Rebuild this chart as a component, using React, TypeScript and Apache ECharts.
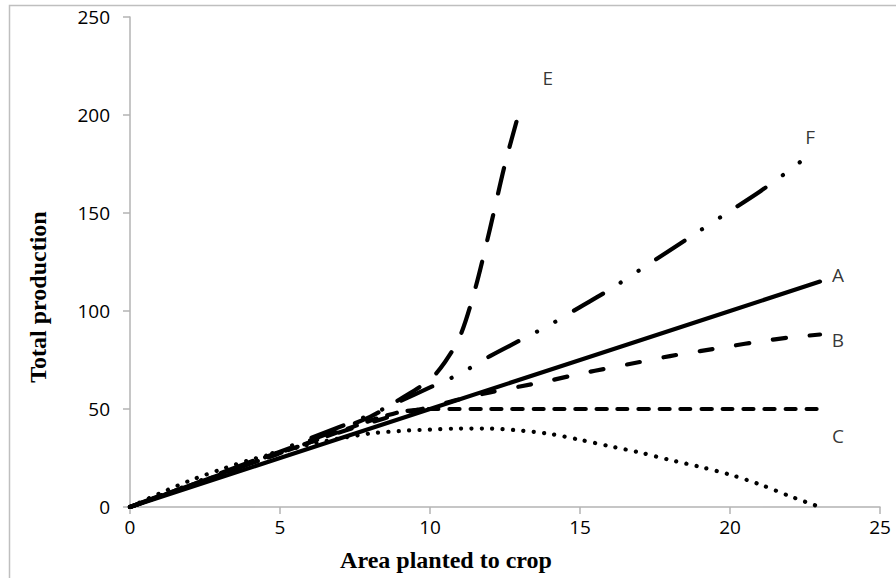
import React, { useEffect, useRef } from "react";
import * as echarts from "echarts";

// ---- data ----
const xMin = 0;
const xMax = 25;
const xStep = 5;
const yMin = 0;
const yMax = 250;
const yStep = 50;

const seriesA: number[][] = [[0, 0], [5, 25], [10, 50], [15, 75], [20, 100], [23, 115]];
const seriesB: number[][] = [
  [0, 0], [2, 11], [4, 22], [6, 33], [8, 43], [9, 47.5], [10, 51], [11, 55], [12, 58.5],
  [13, 61.5], [14, 64.5], [15, 68], [16, 71], [17, 74], [18, 77], [19, 79.5], [20, 82],
  [21, 84.5], [22, 86.5], [23, 88],
];
const seriesC: number[][] = [
  [0, 0], [2, 11], [4, 22], [6, 33], [8, 44], [9, 48.5], [10, 50], [12, 50], [14, 50],
  [16, 50], [18, 50], [20, 50], [23, 50],
];
const seriesD: number[][] = [
  [0, 0], [1, 7], [2, 13.5], [3, 19], [4, 24], [5, 28], [6, 32], [7, 35], [8, 37.5],
  [9, 38.8], [10, 39.5], [11, 40], [12, 40], [13, 39], [14, 37.3], [15, 34.3], [16, 31],
  [17, 27.8], [18, 24], [19, 20.5], [20, 16.5], [21, 11.5], [22, 5.5], [23, 0],
];
const seriesE: number[][] = [
  [0, 0], [2, 11], [4, 22.5], [6, 34], [8, 46], [9, 55], [10, 65], [10.5, 74], [11, 87],
  [11.5, 111], [12, 142], [12.5, 175], [13, 203],
];
const seriesF: number[][] = [
  [0, 0], [2, 11.5], [4, 23], [6, 35], [8, 47], [9, 54], [10, 61], [11, 68], [12, 77],
  [13, 85], [14, 93], [15, 102], [16, 111], [17, 121], [18, 131], [19, 141], [20, 151],
  [21, 161], [22, 172], [22.5, 178],
];

const curveNames = ["A", "B", "C", "E", "F"];
const curveLabelPos: number[][] = [[23.6, 118.6], [23.6, 85.4], [23.6, 36.3], [13.93, 219], [22.67, 189]];

const xTitle = "Area planted to crop";
const yTitle = "Total production";

export default function App() {
  const ref = useRef<HTMLDivElement>(null);

  useEffect(() => {
    if (!ref.current) return;
    const chart = echarts.init(ref.current, undefined, { renderer: "svg" });
    const W = 4.2;
    const lineSeries = (name: string, data: number[][], type: any, smooth: number | boolean) => ({
      name,
      type: "line",
      data,
      showSymbol: false,
      symbol: "none",
      smooth,
      lineStyle: { color: "#000", width: W, type, cap: "round", join: "round" },
      z: 3,
    });
    chart.setOption({
      animation: false,
      backgroundColor: "#fff",
      grid: { left: 130, right: 16, top: 17, bottom: 71, containLabel: false },
      xAxis: {
        type: "value",
        min: xMin,
        max: xMax,
        interval: xStep,
        axisLine: { show: true, lineStyle: { color: "#b3b3b3", width: 1.5 } },
        axisTick: { show: true, inside: false, length: 7, lineStyle: { color: "#b3b3b3", width: 1.5 } },
        splitLine: { show: false },
        axisLabel: { color: "#000", fontFamily: "Open Sans", fontSize: 19, margin: 10 },
      },
      yAxis: {
        type: "value",
        min: yMin,
        max: yMax,
        interval: yStep,
        axisLine: { show: true, lineStyle: { color: "#b3b3b3", width: 1.5 } },
        axisTick: { show: true, inside: false, length: 7, lineStyle: { color: "#b3b3b3", width: 1.5 } },
        splitLine: { show: false },
        axisLabel: { color: "#000", fontFamily: "Open Sans", fontSize: 19, margin: 20 },
      },
      graphic: [
        {
          type: "rect",
          left: 7,
          top: 3,
          shape: { x: 0, y: 0, width: 1000, height: 1000 },
          style: { fill: "none", stroke: "#bfbfbf", lineWidth: 1.5 },
          silent: true,
          z: 0,
        },
        {
          type: "text",
          x: 446,
          y: 560,
          style: {
            text: xTitle,
            fill: "#000",
            font: "bold 24px 'Liberation Serif'",
            textAlign: "center",
            textVerticalAlign: "middle",
          },
        },
        {
          type: "text",
          x: 38,
          y: 297,
          rotation: Math.PI / 2,
          style: {
            text: yTitle,
            fill: "#000",
            font: "bold 24px 'Liberation Serif'",
            textAlign: "center",
            textVerticalAlign: "middle",
          },
        },
      ],
      series: [
        lineSeries("A", seriesA, "solid", false),
        lineSeries("B", seriesB, [13, 24], 0.3),
        lineSeries("C", seriesC, [10, 11], 0.2),
        lineSeries("D", seriesD, [0.1, 10.3], 0.3),
        lineSeries("E", seriesE, [26, 22], 0.3),
        lineSeries("F", seriesF, [34, 21, 0.1, 21, 0.1, 21], 0.3),
        {
          name: "labels",
          type: "scatter",
          symbolSize: 0,
          data: curveLabelPos.map((p, i) => ({ value: p, name: curveNames[i] })),
          label: {
            show: true,
            position: "inside",
            formatter: (p: any) => p.name,
            color: "#000",
            fontFamily: "Open Sans",
            fontSize: 19,
          },
          z: 4,
        },
      ],
    });
    return () => chart.dispose();
  }, []);

  return (
    <div
      ref={ref}
      style={{ position: "fixed", left: 0, top: 0, width: 896, height: 578, background: "#fff" }}
    />
  );
}
